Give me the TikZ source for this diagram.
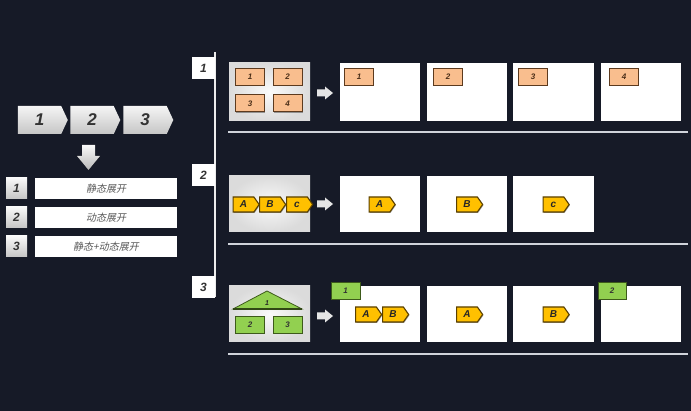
\documentclass[tikz,border=0pt]{standalone}
\usepackage{fontspec}
\setmainfont{Liberation Sans}
\newfontfamily\cjk[FakeSlant=0.2]{Noto Sans CJK SC}
\usetikzlibrary{shapes.symbols,shadows}
\definecolor{bg}{HTML}{161A27}
\definecolor{numc}{HTML}{333333}
\definecolor{peach}{HTML}{F9BE8E}
\definecolor{peachd}{HTML}{5C3A1E}
\definecolor{gold}{HTML}{FFC000}
\definecolor{goldd}{HTML}{5A4000}
\definecolor{leaf}{HTML}{92D050}
\definecolor{leafd}{HTML}{3D5A1A}
\definecolor{rule}{HTML}{D0D3DA}
\begin{document}
\begin{tikzpicture}[x=1pt,y=-1pt,
  shd/.style={drop shadow={shadow xshift=0.8pt,shadow yshift=-0.8pt,opacity=0.35,fill=black}},
  chev/.style={shape=signal, signal to=east, signal pointer angle=130, top color=white!92!gray, bottom color=gray!45, draw=none,
    minimum width=50pt, minimum height=28pt, inner sep=0pt, text=numc, font=\bfseries\itshape\fontsize{17}{17}\selectfont},
  numbox/.style={rectangle, top color=white!95!gray, bottom color=gray!45, draw=none, minimum width=21pt, minimum height=21pt,
    inner sep=0pt, text=numc, font=\bfseries\itshape\fontsize{12}{12}\selectfont},
  txtbox/.style={rectangle, fill=white, draw=none, minimum width=142pt, minimum height=21pt, inner sep=0pt,
    text=black!65, font=\cjk\fontsize{10}{10}\selectfont},
  secbox/.style={rectangle, fill=white, draw=none, minimum width=23pt, minimum height=22pt, inner sep=0pt,
    text=numc, font=\bfseries\itshape\fontsize{12}{12}\selectfont},
  panel/.style={rectangle, inner color=white!96!gray, outer color=gray!28, draw=none, minimum width=81pt, inner sep=0pt},
  page/.style={rectangle, fill=white, draw=none, inner sep=0pt},
  otag/.style={rectangle, fill=peach, draw=peachd, line width=1pt, minimum width=29pt, minimum height=17pt, inner sep=0pt,
    text=peachd!80!black, font=\bfseries\itshape\fontsize{8}{8}\selectfont, shd},
  gtag/.style={rectangle, fill=leaf, draw=leafd, line width=0.8pt, minimum width=29pt, minimum height=17pt, inner sep=0pt,
    text=black!80, font=\bfseries\itshape\fontsize{8}{8}\selectfont, shd},
  ytag/.style={shape=signal, signal to=east, signal pointer angle=110, fill=gold, draw=goldd, line width=1.1pt,
    minimum width=26pt, minimum height=15pt, inner sep=0pt, text=black!85, font=\bfseries\itshape\fontsize{10}{10}\selectfont, shd},
  hrule/.style={draw=rule, line width=2pt},
  rarr/.style={fill=white!80!gray, draw=none}
]
\fill[bg] (0,0) rectangle (691,411);
\useasboundingbox (0,0) rectangle (691,411);

% ---------- left part ----------
\node[chev] (c1) at (39.5,120) {1};
\node[chev] (c2) at (92,120) {2};
\node[chev] (c3) at (145,120) {3};
\fill[top color=white!95!gray, bottom color=gray!55] (82,145) -- (95,145) -- (95,156) -- (100,156) -- (88.5,170) -- (77,156) -- (82,156) -- cycle;

\node[numbox] (n1) at (16.5,188.5) {1};
\node[numbox] (n2) at (16.5,217.5) {2};
\node[numbox] (n3) at (16.5,246.5) {3};
\node[txtbox] (t1) at (106,188.5) {静态展开};
\node[txtbox] (t2) at (106,217.5) {动态展开};
\node[txtbox] (t3) at (106,246.5) {静态+动态展开};

% ---------- section spine ----------
\draw[white!85!gray, line width=1.2pt] (215,52) -- (215,297);
\node[secbox] (s1) at (203.5,68) {1};
\node[secbox] (s2) at (203.5,175.5) {2};
\node[secbox] (s3) at (203.5,287.5) {3};

% ---------- row 1 ----------
\node[panel, minimum height=58pt] (p1) at (269.5,92) {};
\node[otag] (p1a) at (250,77) {1};
\node[otag] (p1b) at (287.5,77) {2};
\node[otag] (p1c) at (250,103.5) {3};
\node[otag] (p1d) at (287.5,103.5) {4};
\fill[rarr] (317,89.5) -- (325,89.5) -- (325,86.5) -- (333,93) -- (325,99.5) -- (325,96.5) -- (317,96.5) -- cycle;
\node[page, minimum width=80pt, minimum height=58pt] (r1a) at (380,92) {};
\node[page, minimum width=80pt, minimum height=58pt] (r1b) at (467,92) {};
\node[page, minimum width=81pt, minimum height=58pt] (r1c) at (553.5,92) {};
\node[page, minimum width=80pt, minimum height=58pt] (r1d) at (641,92) {};
\node[otag] (q1) at (359,77) {1};
\node[otag] (q2) at (448,77) {2};
\node[otag] (q3) at (533,77) {3};
\node[otag] (q4) at (624,77) {4};
\draw[hrule] (228,132) -- (688,132);

% ---------- row 2 ----------
\node[panel, minimum height=56pt] (p2) at (269.5,204) {};
\node[ytag] (p2a) at (243.5,204.5) {A};
\node[ytag] (p2b) at (270,204.5) {B};
\node[ytag] (p2c) at (297,204.5) {c};
\fill[rarr] (317,200.5) -- (325,200.5) -- (325,197.5) -- (333,204) -- (325,210.5) -- (325,207.5) -- (317,207.5) -- cycle;
\node[page, minimum width=80pt, minimum height=56pt] (r2a) at (380,204) {};
\node[page, minimum width=80pt, minimum height=56pt] (r2b) at (467,204) {};
\node[page, minimum width=81pt, minimum height=56pt] (r2c) at (553.5,204) {};
\node[ytag] (y2a) at (379.5,204.5) {A};
\node[ytag] (y2b) at (467,204.5) {B};
\node[ytag] (y2c) at (553.5,204.5) {c};
\draw[hrule] (228,244) -- (688,244);

% ---------- row 3 ----------
\node[panel, minimum height=56pt] (p3) at (269.5,314) {};
\filldraw[fill=leaf, draw=leafd, line width=0.8pt] (233,309) -- (267,291) -- (302,309) -- cycle;
\draw[leafd!80!black, line width=1.4pt] (233,309) -- (302,309);
\node[text=black!85, font=\bfseries\itshape\fontsize{7}{7}\selectfont, inner sep=0pt] (tri) at (267,303.5) {1};
\node[gtag] (p3b) at (250,324.5) {2};
\node[gtag] (p3c) at (287.5,324.5) {3};
\fill[rarr] (317,312.5) -- (325,312.5) -- (325,309.5) -- (333,316) -- (325,322.5) -- (325,319.5) -- (317,319.5) -- cycle;
\node[page, minimum width=80pt, minimum height=56pt] (r3a) at (380,314) {};
\node[page, minimum width=80pt, minimum height=56pt] (r3b) at (467,314) {};
\node[page, minimum width=81pt, minimum height=56pt] (r3c) at (553.5,314) {};
\node[page, minimum width=80pt, minimum height=56pt] (r3d) at (641,314) {};
\node[gtag] (g1) at (345.5,290.5) {1};
\node[gtag, minimum width=28pt] (g2) at (612,290.5) {2};
\node[ytag] (y3a) at (366,314.5) {A};
\node[ytag] (y3b) at (393,314.5) {B};
\node[ytag] (y3c) at (467,314.5) {A};
\node[ytag] (y3d) at (553.5,314.5) {B};
\draw[hrule] (228,354) -- (688,354);
\end{tikzpicture}
\end{document}
